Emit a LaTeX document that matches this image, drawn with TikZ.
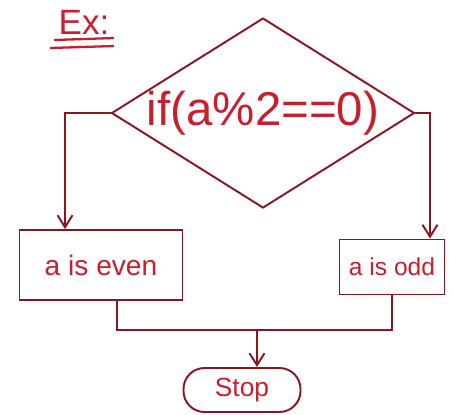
\documentclass[tikz,border=0pt]{standalone}
\usepackage{fontspec}
\setmainfont{Liberation Sans}
\usetikzlibrary{arrows.meta,positioning,shapes.geometric}
\definecolor{inkline}{RGB}{140,22,32}
\definecolor{inktext}{RGB}{200,30,45}

\begin{document}
\begin{tikzpicture}[x=0.02cm,y=-0.02cm,>={Straight Barb[length=2.4mm,width=3mm]},
    line width=1.1pt,draw=inkline,
    boxstyle/.style={draw=inkline,rectangle,text=inktext,inner sep=0pt},
    arr/.style={->,inkline}]
  \useasboundingbox (0,0) rectangle (454,414);
  \node[text=inktext,font=\fontsize{20}{24}\selectfont] (ex) at (84,22) {Ex:};
  \draw[inktext,line width=1.3pt] (54,40) -- (114,38);
  \draw[inktext,line width=1.3pt] (50,48) -- (114,46);
  \node[boxstyle,diamond,aspect=1.6,minimum width=6.06cm,minimum height=3.8cm,
        font=\fontsize{27}{32}\selectfont] (dec) at (263,113) {if(a\%2==0)};
  \node[boxstyle,minimum width=3.26cm,minimum height=1.4cm,
        font=\fontsize{16}{19}\selectfont] (even) at (101,265) {a is even};
  \node[boxstyle,minimum width=2.1cm,minimum height=1.1cm,
        font=\fontsize{14}{17}\selectfont] (odd) at (392,267) {a is odd};
  \node[boxstyle,minimum width=2.34cm,minimum height=0.88cm,rounded corners=0.42cm,
        font=\fontsize{15}{18}\selectfont] (stop) at (242,390) {Stop};
  \draw[arr] (dec.west) -| ([xshift=-0.72cm]even.north);
  \draw[arr] (dec.east) -| ([xshift=0.76cm]odd.north);
  \coordinate (join) at (257,330);
  \draw[inkline] ([xshift=0.32cm]even.south) |- (join) -| (odd.south);
  \draw[arr] (join) -- (join |- stop.north);
\end{tikzpicture}
\end{document}
